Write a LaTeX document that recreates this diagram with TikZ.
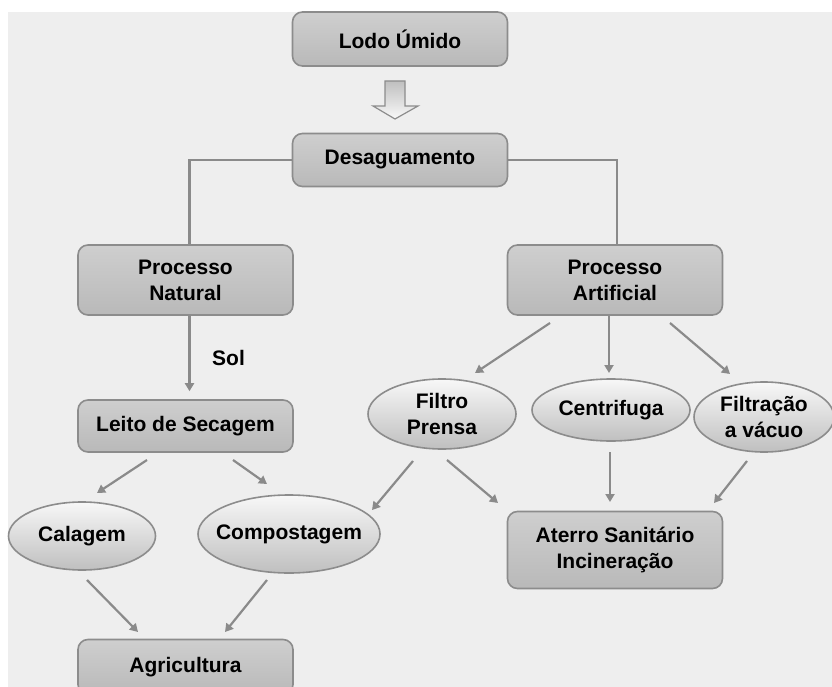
\documentclass[tikz,border=0pt]{standalone}
\usepackage{fontspec}
\setmainfont{Liberation Sans}
\usetikzlibrary{calc,arrows.meta,shapes.geometric}
\definecolor{bgc}{HTML}{EEEEEE}
\definecolor{linec}{HTML}{8A8A8A}
\definecolor{bordc}{HTML}{8C8C8C}
\tikzset{
  boxnode/.style={draw=bordc, line width=1.6pt, rounded corners=10pt,
    minimum width=215pt, top color=gray!38, middle color=gray!5, bottom color=gray!55,
    font=\fontsize{21}{26}\selectfont\bfseries, align=center, inner sep=0pt},
  ellnode/.style={ellipse, draw=bordc, line width=1.6pt,
    top color=gray!6, bottom color=gray!50,
    font=\fontsize{21}{26}\selectfont\bfseries, align=center, inner sep=0pt},
  conn/.style={draw=linec, line width=2.2pt},
  arr/.style={conn, -{Triangle[length=8pt,width=9pt]}},
}
\begin{document}
\begin{tikzpicture}[x=1pt,y=-1pt]
\useasboundingbox (0,0) rectangle (832,687);
\fill[white] (0,0) rectangle (832,687);
\fill[bgc] (8,12) rectangle (832,687);

% nodes
\node[boxnode, minimum height=54pt] (lodo) at (400,39) {Lodo Úmido};
\node[boxnode, minimum height=53pt] (desag) at (400,160) {Desaguamento};
\node[boxnode, minimum height=70pt] (pn) at (185.5,280) {Processo\\Natural};
\node[boxnode, minimum height=70pt] (pa) at (615,280) {Processo\\Artificial};
\node[boxnode, minimum height=52pt] (leito) at (185.5,426) {Leito de Secagem};
\node[boxnode, minimum height=55pt] (agri) at (185.5,667) {Agricultura};
\node[boxnode, minimum height=77pt] (aterro) at (615,550) {Aterro Sanitário\\Incineração};

\node[ellnode, minimum width=147pt, minimum height=68pt] (cal) at (82,536) {Calagem};
\node[ellnode, minimum width=182pt, minimum height=78pt, inner xsep=-9pt] (comp) at (289,534) {Compostagem};
\node[ellnode, minimum width=148pt, minimum height=70pt] (fp) at (442,414) {Filtro\\Prensa};
\node[ellnode, minimum width=158pt, minimum height=62pt] (cen) at (611,410) {Centrifuga};
\node[ellnode, minimum width=140pt, minimum height=70pt] (fv) at (764,417) {Filtração\\a vácuo};

\node[font=\fontsize{21}{26}\selectfont\bfseries, anchor=base west, inner sep=0pt] (sol) at (212,365) {Sol};

% hollow arrow
\draw[draw=bordc, line width=1.2pt, top color=gray!50, bottom color=gray!5]
  (385,81) -- (405,81) -- (405,106) -- (418,106) -- (395,119) -- (373,106) -- (385,106) -- cycle;

% connectors
\draw[conn] (desag.west) -| ($(pn.north)+(4,0)$);
\draw[conn] (desag.east) -| ($(pa.north)+(2,0)$);
\draw[arr] ($(pn.south)+(4,0)$) -- ($(leito.north)+(4,-8)$);

\draw[arr] ($(leito)+(-38.5,34)$) -- ($(cal)+(15,-43)$);
\draw[arr] ($(leito)+(47.5,34)$) -- ($(comp)+(-22,-50)$);
\draw[arr] ($(cal)+(5,44)$) -- ($(agri)+(-47.5,-35)$);
\draw[arr] ($(comp)+(-22,46)$) -- ($(agri)+(39.5,-35)$);

\draw[arr] ($(pa)+(-65,43)$) -- ($(fp)+(33,-41)$);
\draw[arr] ($(pa)+(-6,36)$) -- ($(cen)+(-2,-37)$);
\draw[arr] ($(pa)+(55,43)$) -- ($(fv)+(-34,-43)$);

\draw[arr] ($(fp)+(-29,47)$) -- ($(comp)+(83,-24)$);
\draw[arr] ($(fp)+(5,46)$) -- ($(aterro)+(-117,-47)$);
\draw[arr] ($(cen)+(-1,42)$) -- ($(aterro)+(-5,-48)$);
\draw[arr] ($(fv)+(-17,44)$) -- ($(aterro)+(99,-47)$);
\end{tikzpicture}
\end{document}
